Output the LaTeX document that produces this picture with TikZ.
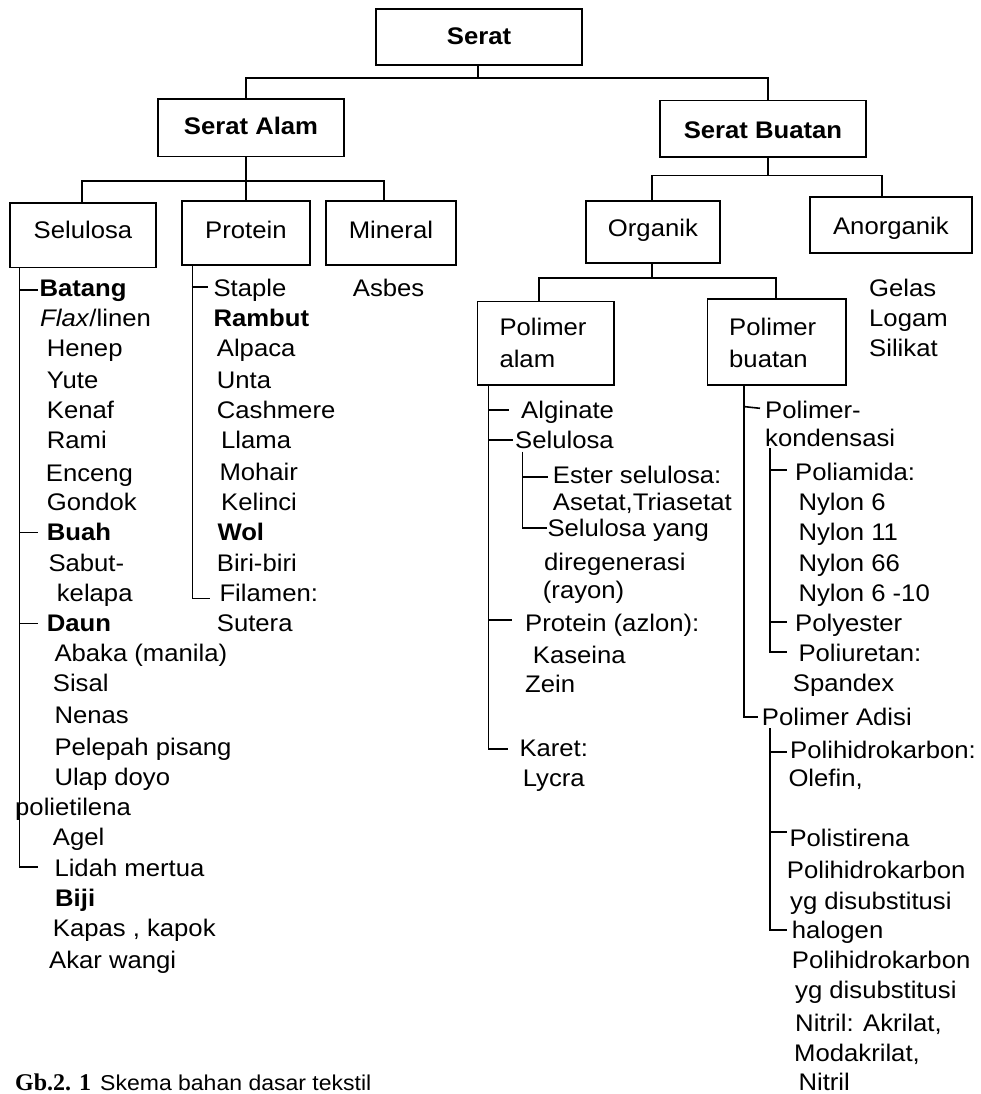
\documentclass[tikz,border=0pt]{standalone}
\usepackage{fontspec}
\setmainfont{Liberation Sans}[FakeStretch=1.07]
\newfontfamily\serifcap{Liberation Serif}
\begin{document}
\begin{tikzpicture}[x=1pt,y=-1pt,
  every node/.style={inner sep=0pt, font=\fontsize{24}{28}\selectfont},
  box/.style={draw, line width=1.5pt, anchor=north, align=center},
  bbox/.style={box, font=\fontsize{24}{28}\selectfont\bfseries},
  it/.style={anchor=base west},
  con/.style={line width=1.6pt}]
\fill[white] (0,0) rectangle (980,1094);
\useasboundingbox (0,0) rectangle (980,1094);

% boxes
\node[bbox, minimum width=206pt, text height=35pt, text depth=21pt] (serat) at (479,8.3) {Serat};
\node[bbox, minimum width=186pt, text height=35pt, text depth=22.7pt] (alam) at (251,98.3) {Serat Alam};
\node[bbox, minimum width=206pt, text height=37.3pt, text depth=19pt] (buatan) at (763,100) {Serat Buatan};
\node[box, minimum width=146pt, text height=35.7pt, text depth=29pt] (selulosa) at (83,202) {Selulosa};
\node[box, minimum width=128.3pt, text height=37.4pt, text depth=26.6pt] (protein) at (245.9,200.3) {Protein};
\node[box, minimum width=130.3pt, text height=37.4pt, text depth=26.6pt] (mineral) at (390.9,200.3) {Mineral};
\node[box, minimum width=134.3pt, text height=36pt, text depth=26.3pt] (organik) at (652.9,200) {Organik};
\node[box, minimum width=162.3pt, text height=37.3pt, text depth=19pt] (anorganik) at (890.9,196) {Anorganik};
\node[box, minimum width=136.7pt, minimum height=83.6pt] (pa) at (545.7,300.7) {};
\node[box, minimum width=138.7pt, minimum height=86pt] (pb) at (776.7,298.3) {};
\node[it] (pa1) at (499.3,335) {Polimer};
\node[it] (pa2) at (499.3,367) {alam};
\node[it] (pb1) at (729,335) {Polimer};
\node[it] (pb2) at (729,367) {buatan};

% tree connectors
\coordinate (j0) at (477.7,78.3);
\coordinate (c1L) at (245.7,78.3);
\coordinate (c1R) at (767.7,78.3);
\draw[con] (serat.south -| j0) -- (j0);
\draw[con] (alam.north -| c1L) -- (c1L) -- (c1R) -- (buatan.north -| c1R);

\coordinate (c2) at (245.7,181);
\coordinate (c2L) at (81.7,181);
\coordinate (c2R) at (383.7,181);
\draw[con] (alam.south -| c2) -- (c2) -- (protein.north -| c2);
\draw[con] (selulosa.north -| c2L) -- (c2L) -- (c2R) -- (mineral.north -| c2R);

\coordinate (c3) at (767.7,175.7);
\coordinate (c3L) at (652,175.7);
\coordinate (c3R) at (881.7,175.7);
\draw[con] (buatan.south -| c3) -- (c3);
\draw[con] (organik.north -| c3L) -- (c3L) -- (c3R) -- (anorganik.north -| c3R);

\coordinate (c4) at (652,277.7);
\coordinate (c4L) at (539,277.7);
\coordinate (c4R) at (776,277.7);
\draw[con] (organik.south -| c4) -- (c4);
\draw[con] (pa.north -| c4L) -- (c4L) -- (c4R) -- (pb.north -| c4R);

% Selulosa list
\coordinate (sx) at (19.3,866.7);
\coordinate (sxe) at (38.3,866.7);
\draw[con] (selulosa.south -| sx) -- (sx) -- (sxe);
\foreach \y [count=\i] in {290,532.3,623.3}{
  \coordinate (st\i) at (19.3,\y); \coordinate (se\i) at (38.3,\y);
  \draw[con] (st\i) -- (se\i);}
\foreach \x/\y/\t [count=\i] in {
  39.3/296/{\textbf{Batang}}, 40/326.7/{\textit{Flax}/linen}, 46.7/356.7/Henep,
  46.7/388.3/Yute, 46.7/418.3/Kenaf, 46.7/448.3/Rami, 45.7/481.7/Enceng,
  46.7/510/Gondok, 46.7/540/{\textbf{Buah}}, 48.3/571.7/Sabut-, 56.7/601.7/kelapa,
  46.7/631.7/{\textbf{Daun}}, 54.3/661.7/{Abaka (manila)}, 52.7/691.7/Sisal,
  54.3/723.3/Nenas, 54.3/755/{Pelepah pisang}, 54.3/785/{Ulap doyo},
  15/815/polietilena, 52.7/845/Agel, 54.3/876.7/{Lidah mertua},
  55/906.7/{\textbf{Biji}}, 52.7/936.7/{Kapas , kapok}, 49/968.3/{Akar wangi}}
  \node[it] (s\i) at (\x,\y) {\t};

% Protein list
\coordinate (px) at (192.3,598.3);
\coordinate (pxe) at (210,598.3);
\coordinate (pt1) at (191.7,286.7);
\coordinate (pe1) at (208,286.7);
\draw[con] (protein.south -| px) -- (px) -- (pxe);
\draw[con] (pt1) -- (pe1);
\foreach \x/\y/\t [count=\i] in {
  213.3/296.7/Staple, 213.3/326.7/{\textbf{Rambut}}, 216.7/356.7/Alpaca,
  216.7/388.3/Unta, 216.7/418.3/Cashmere, 221/448.3/Llama, 219.3/480/Mohair,
  221/510/Kelinci, 217.3/540/{\textbf{Wol}}, 216.7/571.7/Biri-biri,
  219.3/601.7/Filamen:, 216.7/631.7/Sutera}
  \node[it] (p\i) at (\x,\y) {\t};

% Mineral, Anorganik
\node[it] (asbes) at (352.7,296.7) {Asbes};
\node[it] (gelas) at (869,296.7) {Gelas};
\node[it] (logam) at (869,326.7) {Logam};
\node[it] (silikat) at (869,356) {Silikat};

% Polimer alam list
\coordinate (ax) at (488.3,749);
\coordinate (axe) at (508.3,749);
\draw[con] (pa.south -| ax) -- (ax) -- (axe);
\foreach \y/\e [count=\i] in {410/509,440/513,620/511.7}{
  \coordinate (at\i) at (488.3,\y); \coordinate (ae\i) at (\e,\y);
  \draw[con] (at\i) -- (ae\i);}
\coordinate (asx0) at (522.3,451.7);
\coordinate (asx) at (522.3,528);
\coordinate (asxe) at (546.7,528);
\coordinate (ast) at (522.3,476.7);
\coordinate (ase) at (548,476.7);
\draw[con] (asx0) -- (asx) -- (asxe);
\draw[con] (ast) -- (ase);
\foreach \x/\y/\t [count=\i] in {
  521/418/Alginate, 515/448/Selulosa, 552.7/483/{Ester selulosa:},
  552.7/510/{Asetat,Triasetat}, 547.3/536.7/{Selulosa yang},
  544/570/diregenerasi, 542.7/598/(rayon), 525/631.7/{Protein (azlon):},
  532.7/663/Kaseina, 525/692.7/Zein, 519.3/756.7/Karet:, 522.7/786.7/Lycra}
  \node[it] (a\i) at (\x,\y) {\t};

% Polimer buatan list
\coordinate (bx) at (744,716.7);
\coordinate (bxe) at (758.3,716.7);
\draw[con] (pb.south -| bx) -- (bx) -- (bxe);
\coordinate (bt0) at (745,406.7);
\coordinate (be0) at (760,408.3);
\draw[con] (bt0) -- (be0);
\coordinate (kx0) at (770,448);
\coordinate (kx) at (770,651.7);
\coordinate (kxe) at (787,651.7);
\draw[con] (kx0) -- (kx) -- (kxe);
\coordinate (dx0) at (770,728.3);
\coordinate (dx) at (770,930);
\coordinate (dxe) at (786.7,930);
\draw[con] (dx0) -- (dx) -- (dxe);
\foreach \y [count=\i] in {470,621.7,751.7,831.7}{
  \coordinate (bt\i) at (770,\y); \coordinate (be\i) at (787,\y);
  \draw[con] (bt\i) -- (be\i);}
\foreach \x/\y/\t [count=\i] in {
  765/418/Polimer-, 765/446.7/kondensasi, 795/480/Poliamida:,
  798.3/510/{Nylon 6}, 798.3/540/{Nylon 11}, 798.3/571.7/{Nylon 66},
  798.3/601.7/{Nylon 6 -10}, 795/631.7/Polyester, 798.3/661.7/Poliuretan:,
  792.7/691.7/Spandex, 761.7/725/{Polimer Adisi}, 790/758.3/Polihidrokarbon:,
  788.3/786.7/{Olefin,}, 789.3/846.7/Polistirena, 786.7/878.3/Polihidrokarbon,
  790/909/{yg disubstitusi}, 791.7/938.3/halogen, 791.7/968.3/Polihidrokarbon,
  795/998/{yg disubstitusi}, 795/1031.7/{Nitril: Akrilat,},
  794/1061.7/{Modakrilat,}, 798.3/1090/Nitril}
  \node[it] (b\i) at (\x,\y) {\t};

% caption
\node[it, font=\fontsize{24}{28}\serifcap\bfseries] (cap1) at (15,1090) {Gb.2. 1};
\node[it, font=\fontsize{21.5}{26}\selectfont] (cap2) at (100,1090) {Skema bahan dasar tekstil};
\end{tikzpicture}
\end{document}
